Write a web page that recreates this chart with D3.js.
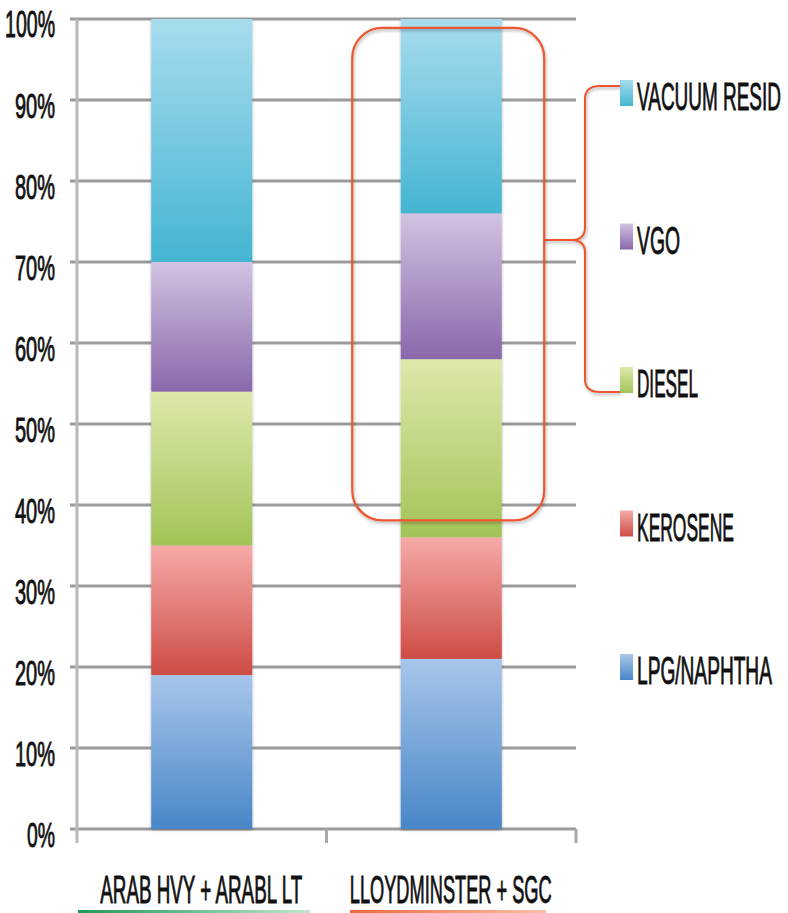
<!DOCTYPE html>
<html>
<head>
<meta charset="utf-8">
<script src="https://cdn.jsdelivr.net/npm/d3@7"></script>
<style>
  html, body { margin: 0; padding: 0; background: #fff; }
  svg { display: block; }
  text { font-family: "Liberation Sans Narrow", "Liberation Sans", Arial, sans-serif; fill: #111; stroke: #111; stroke-width: 0.9; }
</style>
</head>
<body>
<svg id="chart" width="788" height="913"></svg>
<script>
// Crude blends and their distillation cuts (percent of barrel)
const categories = ["ARAB HVY + ARABL LT", "LLOYDMINSTER + SGC"];
const seriesNames = ["LPG/NAPHTHA", "KEROSENE", "DIESEL", "VGO", "VACUUM RESID"];
const lpgNaphtha  = [19, 21];
const kerosene    = [16, 15];
const diesel      = [19, 22];
const vgo         = [16, 18];
const vacuumResid = [30, 24];
const yTicks = [0, 10, 20, 30, 40, 50, 60, 70, 80, 90, 100];
const yTickLabels = ["0%", "10%", "20%", "30%", "40%", "50%", "60%", "70%", "80%", "90%", "100%"];

// Top/bottom gradient stops for each cut
const shades = {
  "LPG/NAPHTHA":  ["#a8c6ea", "#4886c8"],
  "KEROSENE":     ["#f6aaa8", "#cd4c45"],
  "DIESEL":       ["#dde9ab", "#a2c458"],
  "VGO":          ["#d2c3e2", "#8868ab"],
  "VACUUM RESID": ["#a8dcee", "#44b5d2"]
};

// Rendered widths of the condensed labels
const labelWidth = {
  "0%": 28, "10%": 40, "20%": 40, "30%": 40, "40%": 40, "50%": 40, "60%": 40,
  "70%": 40, "80%": 40, "90%": 40, "100%": 50,
  "VACUUM RESID": 144, "VGO": 43, "DIESEL": 61, "KEROSENE": 97, "LPG/NAPHTHA": 135,
  "ARAB HVY + ARABL LT": 202, "LLOYDMINSTER + SGC": 202
};

// Squeeze a text horizontally to its target width, keeping its anchor point fixed
function condense(sel) {
  sel.each(function (d) {
    const t = d3.select(this);
    const label = t.text();
    const natural = this.getComputedTextLength();
    const k = labelWidth[label] / natural;
    const ax = +t.attr("x"), ay = +t.attr("y");
    t.attr("transform", `translate(${ax},${ay}) scale(${k},1) translate(${-ax},${-ay})`);
  });
}

const table = categories.map((c, i) => ({
  category: c,
  "LPG/NAPHTHA": lpgNaphtha[i],
  "KEROSENE": kerosene[i],
  "DIESEL": diesel[i],
  "VGO": vgo[i],
  "VACUUM RESID": vacuumResid[i]
}));

const svg = d3.select("#chart");
const defs = svg.append("defs");

Object.entries(shades).forEach(([name, [top, bottom]], i) => {
  const g = defs.append("linearGradient")
    .attr("id", "grad" + i)
    .attr("x1", 0).attr("y1", 0).attr("x2", 0).attr("y2", 1);
  g.append("stop").attr("offset", "0%").attr("stop-color", top);
  g.append("stop").attr("offset", "100%").attr("stop-color", bottom);
});
const gradId = name => "url(#grad" + Object.keys(shades).indexOf(name) + ")";

const barShadow = defs.append("filter").attr("id", "barShadow")
  .attr("x", "-10%").attr("y", "-10%").attr("width", "120%").attr("height", "120%");
barShadow.append("feDropShadow").attr("dx", 0).attr("dy", 1).attr("stdDeviation", 1.4)
  .attr("flood-color", "#000").attr("flood-opacity", 0.3);

const lineShadow = defs.append("filter").attr("id", "lineShadow")
  .attr("x", "-10%").attr("y", "-10%").attr("width", "120%").attr("height", "120%");
lineShadow.append("feDropShadow").attr("dx", 1).attr("dy", 2).attr("stdDeviation", 1.5)
  .attr("flood-color", "#000").attr("flood-opacity", 0.3);

const underlineGreen = defs.append("linearGradient").attr("id", "ulGreen");
underlineGreen.append("stop").attr("offset", "0%").attr("stop-color", "#1f9a55");
underlineGreen.append("stop").attr("offset", "100%").attr("stop-color", "#bfe6cf");
const underlineOrange = defs.append("linearGradient").attr("id", "ulOrange");
underlineOrange.append("stop").attr("offset", "0%").attr("stop-color", "#f06a3a");
underlineOrange.append("stop").attr("offset", "100%").attr("stop-color", "#f8c0a8");

// Scales
const x = d3.scaleBand().domain(categories).range([77, 576]).padding(0);
const y = d3.scaleLinear().domain([0, 100]).range([829, 19]);
const barW = x.bandwidth() * 0.405;
const barX = c => x(c) + (x.bandwidth() - barW) / 2;

// Gridlines
svg.append("g").selectAll("line").data(yTicks).join("line")
  .attr("x1", 70).attr("x2", 576)
  .attr("y1", d => y(d)).attr("y2", d => y(d))
  .attr("stroke", "#9b9b9b").attr("stroke-width", 3);

// Vertical axis and category tick marks
svg.append("line")
  .attr("x1", 77).attr("x2", 77).attr("y1", y(100)).attr("y2", y(0) + 14)
  .attr("stroke", "#b8b8b8").attr("stroke-width", 3);
svg.append("g").selectAll("line").data([x.range()[0] + x.bandwidth(), x.range()[1]]).join("line")
  .attr("x1", d => d).attr("x2", d => d)
  .attr("y1", y(0)).attr("y2", y(0) + 14)
  .attr("stroke", "#a8a8a8").attr("stroke-width", 3);

// Y tick labels
svg.append("g").selectAll("text").data(yTicks).join("text")
  .attr("x", 55).attr("y", d => y(d) + 18)
  .attr("text-anchor", "end")
  .attr("font-size", 36)
  .text((d, i) => yTickLabels[i])
  .call(condense);

// Stacked bars
const stacked = d3.stack().keys(seriesNames)(table);
svg.append("g").attr("filter", "url(#barShadow)")
  .selectAll("g").data(stacked).join("g")
  .attr("fill", s => gradId(s.key))
  .selectAll("rect").data(s => s).join("rect")
  .attr("x", d => barX(d.data.category))
  .attr("width", barW)
  .attr("y", d => y(d[1]))
  .attr("height", d => y(d[0]) - y(d[1]));

// Category labels
svg.append("g").selectAll("text").data(categories).join("text")
  .attr("x", c => x(c) + x.bandwidth() / 2 - 0.5)
  .attr("y", 903)
  .attr("text-anchor", "middle")
  .attr("font-size", 39)
  .text(c => c)
  .call(condense);

svg.append("rect").attr("x", 78).attr("y", 910).attr("width", 232).attr("height", 3)
  .attr("fill", "url(#ulGreen)");
svg.append("rect").attr("x", 350).attr("y", 910).attr("width", 196).attr("height", 3)
  .attr("fill", "url(#ulOrange)");

// Highlight around the heavier cuts of the second blend
const hc = x(categories[1]) + x.bandwidth() / 2;
svg.append("rect")
  .attr("x", hc - 99).attr("y", y(98.9))
  .attr("width", 192).attr("height", y(38.1) - y(98.9))
  .attr("rx", 30).attr("ry", 30)
  .attr("fill", "none").attr("stroke", "#ec5630").attr("stroke-width", 2.2)
  .attr("filter", "url(#lineShadow)");

// Legend, top to bottom
const legendKeys = seriesNames.slice().reverse();
const ly = d3.scaleLinear().domain([0, legendKeys.length - 1]).range([93, 667]);
const legend = svg.append("g").selectAll("g").data(legendKeys).join("g")
  .attr("transform", (d, i) => `translate(620, ${ly(i)})`);
legend.append("rect").attr("x", 0).attr("y", -13).attr("width", 13).attr("height", 26)
  .attr("fill", d => gradId(d));
legend.append("text").attr("x", 17).attr("y", 17)
  .attr("font-size", 39)
  .text(d => d)
  .call(condense);

// Brace grouping the highlighted cuts with their legend entries
const bTop = ly(0) - 7, bMid = 240, bBot = ly(2) + 12, bx = 585, r = 13;
const brace = d3.path();
brace.moveTo(hc + 93, bMid);
brace.lineTo(bx - r, bMid);
brace.quadraticCurveTo(bx, bMid, bx, bMid - r);
brace.lineTo(bx, bTop + r);
brace.quadraticCurveTo(bx, bTop, bx + r + 2, bTop);
brace.lineTo(620, bTop);
brace.moveTo(bx - r, bMid);
brace.quadraticCurveTo(bx, bMid, bx, bMid + r);
brace.lineTo(bx, bBot - r);
brace.quadraticCurveTo(bx, bBot, bx + r + 2, bBot);
brace.lineTo(620, bBot);
svg.append("path").attr("d", brace.toString())
  .attr("fill", "none").attr("stroke", "#ec5630").attr("stroke-width", 2)
  .attr("filter", "url(#lineShadow)");
</script>
</body>
</html>
